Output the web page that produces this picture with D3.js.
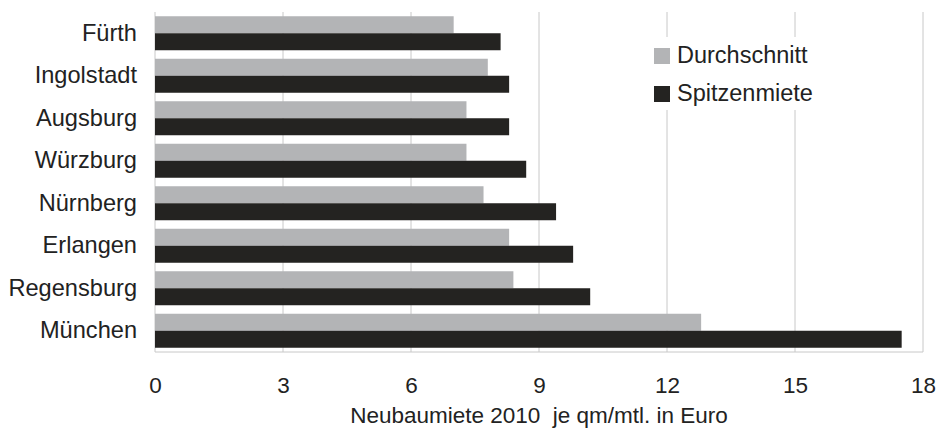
<!DOCTYPE html>
<html>
<head>
<meta charset="utf-8">
<script src="https://cdn.jsdelivr.net/npm/d3@7/dist/d3.min.js"></script>
<style>
  html, body { margin: 0; padding: 0; background: #fff; }
  text { font-family: "Liberation Sans", Arial, sans-serif; fill: #222; white-space: pre; }
</style>
</head>
<body>
<svg id="chart" width="940" height="428"></svg>
<script>
const categories = ["Fürth", "Ingolstadt", "Augsburg", "Würzburg", "Nürnberg", "Erlangen", "Regensburg", "München"];
const durchschnitt = [7.0, 7.8, 7.3, 7.3, 7.7, 8.3, 8.4, 12.8];
const spitzenmiete = [8.1, 8.3, 8.3, 8.7, 9.4, 9.8, 10.2, 17.5];
const seriesNames = ["Durchschnitt", "Spitzenmiete"];
const seriesColors = ["#b3b4b6", "#242321"];
const xTicks = [0, 3, 6, 9, 12, 15, 18];
const xTitle = "Neubaumiete 2010  je qm/mtl. in Euro";

const svg = d3.select("#chart");
const margin = { left: 155, right: 17, top: 12, bottom: 76 };
const W = 940, H = 428;
const x = d3.scaleLinear().domain([0, 18]).range([margin.left, W - margin.right]);
const y = d3.scaleBand().domain(categories).range([margin.top, H - margin.bottom])
  .paddingInner(0.2).paddingOuter(0.1);
const ySub = d3.scaleBand().domain(seriesNames).range([0, y.bandwidth()]);

// gridlines
svg.append("g").selectAll("line").data(xTicks).join("line")
  .attr("x1", d => x(d)).attr("x2", d => x(d))
  .attr("y1", margin.top).attr("y2", H - margin.bottom)
  .attr("stroke", "#c8c8c8").attr("stroke-width", 1);
svg.append("line")
  .attr("x1", x(0)).attr("x2", x(18))
  .attr("y1", H - margin.bottom).attr("y2", H - margin.bottom)
  .attr("stroke", "#c8c8c8");

// bars
const data = categories.map((c, i) => ({ c, vals: [durchschnitt[i], spitzenmiete[i]] }));
const groups = svg.append("g").selectAll("g").data(data).join("g")
  .attr("transform", d => `translate(0,${y(d.c)})`);
groups.selectAll("rect").data(d => d.vals.map((v, j) => ({ v, s: seriesNames[j], j })))
  .join("rect")
  .attr("x", x(0))
  .attr("y", d => ySub(d.s))
  .attr("width", d => x(d.v) - x(0))
  .attr("height", ySub.bandwidth())
  .attr("fill", d => seriesColors[d.j]);

// category labels
svg.append("g").selectAll("text").data(categories).join("text")
  .attr("x", margin.left - 18)
  .attr("y", d => y(d) + y.bandwidth() / 2)
  .attr("dy", "0.32em")
  .attr("text-anchor", "end")
  .attr("font-size", 23.6)
  .text(d => d);

// x axis labels
const xAxis = d3.axisBottom(x).tickValues(xTicks).tickSize(0).tickPadding(0);
const gx = svg.append("g").attr("transform", `translate(0,${H - margin.bottom})`).call(xAxis);
gx.select(".domain").remove();
gx.selectAll("text")
  .attr("y", 41).attr("dy", 0)
  .attr("font-size", 22.5)
  .attr("font-family", "Liberation Sans, Arial, sans-serif")
  .attr("fill", "#222");

svg.append("text")
  .attr("x", (x(0) + x(18)) / 2)
  .attr("y", 423)
  .attr("text-anchor", "middle")
  .attr("font-size", 22.5)
  .text(xTitle);

// legend
const lg = svg.append("g");
lg.append("rect").attr("x", 645).attr("y", 37).attr("width", 175).attr("height", 73).attr("fill", "#fff");
seriesNames.forEach((s, i) => {
  lg.append("rect").attr("x", 654).attr("y", 48 + i * 38).attr("width", 16).attr("height", 16)
    .attr("fill", seriesColors[i]);
  lg.append("text").attr("x", 677).attr("y", 63 + i * 38)
    .attr("font-size", 23.5).text(s);
});
</script>
</body>
</html>
